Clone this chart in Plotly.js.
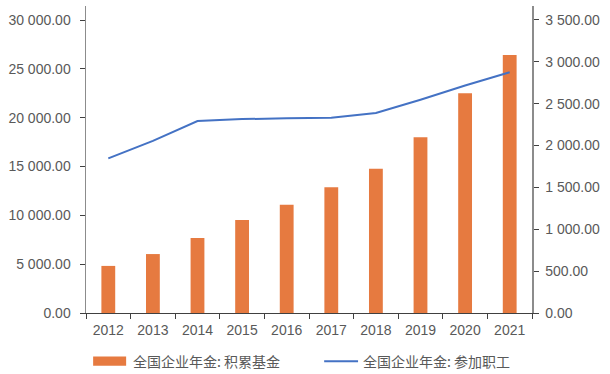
<!DOCTYPE html>
<html><head><meta charset="utf-8">
<script src="https://cdn.plot.ly/plotly-3.0.1.min.js"></script>
<style>html,body{margin:0;padding:0;background:#fff}#c{width:610px;height:374px}</style>
</head><body><div id="c"></div>
<script>
const years = ['2012','2013','2014','2015','2016','2017','2018','2019','2020','2021'];
const fundValues = [4821, 6035, 7689, 9526, 11075, 12880, 14770, 17985, 22497, 26406];
const workerValues = [1847, 2056, 2293, 2316, 2325, 2331, 2388, 2548, 2718, 2875];
const fundName = '全国企业年金: 积累基金';
const workerName = '全国企业年金: 参加职工';

const font = "'Liberation Sans', 'Noto Sans CJK SC', Arial, sans-serif";
const cjk = "'Noto Sans CJK SC', 'Liberation Sans', sans-serif";
const orange = '#E67A40', blue = '#4472C4', grey = '#595959';

const data = [
  {type:'bar', x:years, y:fundValues, name:fundName, marker:{color:orange}, width:0.31, yaxis:'y', hoverinfo:'skip'},
  {type:'scatter', mode:'lines', x:years, y:workerValues, name:workerName, line:{color:blue, width:2}, yaxis:'y2', hoverinfo:'skip'}
];

const layout = {
  width:610, height:374,
  margin:{l:86, r:78, t:6, b:61},
  paper_bgcolor:'#fff', plot_bgcolor:'#fff',
  separators:'. ',
  showlegend:false,
  font:{family:font, size:14, color:grey},
  xaxis:{
    type:'category', showgrid:false, zeroline:false,
    showline:true, linecolor:'#404040', linewidth:1,
    ticks:'outside', tickson:'boundaries', ticklen:5, tickcolor:'#404040',
    ticklabelstandoff:4,
    tickfont:{family:font, size:14, color:grey},
    range:[-0.5, 9.5]
  },
  yaxis:{
    range:[0, 31433], tickvals:[0,5000,10000,15000,20000,25000,30000], tickformat:',.2f',
    showgrid:false, zeroline:false, showline:true, linecolor:'#8c8c8c', linewidth:1.5,
    ticks:'outside', ticklen:5, tickcolor:'#404040', ticklabelstandoff:6,
    tickfont:{family:font, size:14, color:grey}
  },
  yaxis2:{
    overlaying:'y', side:'right',
    range:[0, 3667], tickvals:[0,500,1000,1500,2000,2500,3000,3500], tickformat:',.2f',
    showgrid:false, zeroline:false, showline:true, linecolor:'#8c8c8c', linewidth:1.5,
    ticks:'outside', ticklen:5, tickcolor:'#404040', ticklabelstandoff:4,
    tickfont:{family:font, size:14, color:grey}
  },
  shapes:[
    {type:'rect', xref:'paper', yref:'paper', x0:0.016, x1:0.09, y0:-0.172, y1:-0.142, fillcolor:orange, line:{width:0}},
    {type:'line', xref:'paper', yref:'paper', x0:0.534, x1:0.61, y0:-0.157, y1:-0.157, line:{color:blue, width:2}}
  ],
  annotations:[
    {xref:'paper', yref:'paper', x:0.1, y:-0.157, xanchor:'left', yanchor:'middle', text:fundName, showarrow:false, font:{family:cjk, size:14, color:grey}},
    {xref:'paper', yref:'paper', x:0.617, y:-0.157, xanchor:'left', yanchor:'middle', text:workerName, showarrow:false, font:{family:cjk, size:14, color:grey}}
  ]
};
Plotly.newPlot('c', data, layout, {staticPlot:true, displayModeBar:false});
</script></body></html>
